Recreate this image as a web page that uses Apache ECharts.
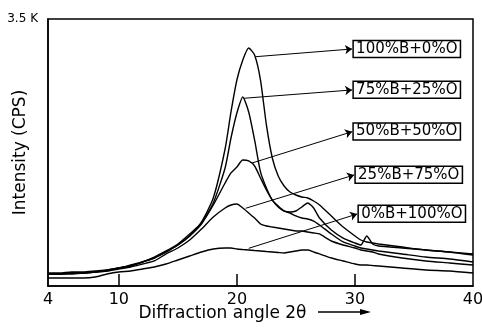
<!DOCTYPE html>
<html>
<head>
<meta charset="utf-8">
<script src="https://cdn.jsdelivr.net/npm/echarts@6/dist/echarts.min.js"></script>
<style>
    html, body { margin: 0; padding: 0; background: #fff; }
    #main { width: 482px; height: 329px; }
</style>
</head>
<body>
<div id="main"></div>
<script>
// 衍射角 2θ (横轴)
let angles = [4, 5, 6, 7, 8, 9, 10, 11, 12, 13, 14, 15, 16, 17, 18,
    19, 19.5, 20, 20.5, 21, 21.5, 22, 22.5, 23, 23.5, 24, 24.5, 25, 25.5, 26, 26.5, 27,
    28, 29, 30, 30.5, 31, 31.5, 32,
    34, 36, 38, 40]

// 各配比的强度 (CPS)
let b100 = [170, 170, 184, 184, 197, 210, 236, 275, 315, 367, 446, 538, 656, 839, 1154,
    1796, 2281, 2700, 2963, 3120, 3028, 2700, 2111, 1678, 1442, 1311, 1232, 1193, 1167, 1154, 1114, 1062,
    918, 773, 656, 603, 577, 564, 551,
    511, 472, 446, 406]
let b75 = [157, 157, 170, 170, 184, 210, 236, 262, 315, 380, 459, 551, 682, 826, 1088,
    1547, 1940, 2268, 2478, 2281, 1914, 1495, 1285, 1127, 1049, 983, 957, 918, 891, 878, 852, 800,
    682, 577, 524, 498, 485, 472, 459,
    420, 380, 354, 315]
let b50 = [157, 157, 157, 170, 184, 197, 236, 262, 315, 367, 446, 538, 656, 813, 1062,
    1350, 1482, 1560, 1652, 1639, 1573, 1416, 1259, 1127, 1036, 983, 970, 983, 1036, 1088, 1023, 891,
    734, 629, 564, 538, 656, 551, 524,
    498, 472, 446, 420]
let b25 = [157, 157, 170, 170, 184, 197, 223, 249, 288, 328, 420, 498, 603, 747, 905,
    1023, 1062, 1075, 1023, 957, 891, 813, 787, 773, 760, 747, 734, 721, 721, 708, 695, 682,
    590, 538, 498, 472, 459, 446, 420,
    367, 328, 302, 275]
let b0 = [105, 105, 105, 105, 118, 157, 184, 197, 223, 249, 288, 341, 393, 446, 485,
    498, 498, 485, 478, 472, 465, 459, 452, 446, 440, 433, 446, 459, 472, 472, 446, 420,
    367, 328, 288, 275, 275, 268, 262,
    236, 210, 197, 170]

let names = ['100%B+0%O', '75%B+25%O', '50%B+50%O', '25%B+75%O', '0%B+100%O']
let values = [b100, b75, b50, b25, b0]

// 标注箭头的起点和终点 (数据坐标)
let arrowFrom = [[21.6, 3006], [20.6, 2461], [21.3, 1613], [20.75, 1019], [21.0, 494]]
let arrowTo = [[29.76, 3107], [29.76, 2570], [29.76, 2023], [29.93, 1455], [30.19, 944]]

let xLabels = [4, 10, 20, 30, 40]
let xTicks = [10, 20, 30]

let FONT = 'DejaVu Sans'
let myChart = echarts.init(document.getElementById('main'))

let series = names.map(function (name, i) {
    return {
        name: name,
        type: 'line',
        data: angles.map(function (a, j) { return [a, values[i][j]] }),
        showSymbol: false,
        smooth: 0.2,
        silent: true,
        lineStyle: { color: '#000', width: 1.4 },
        markLine: {
            silent: true,
            symbol: ['none', 'arrow'],
            symbolSize: 7,
            lineStyle: { color: '#000', width: 1, type: 'solid' },
            label: {
                show: true,
                position: 'end',
                distance: 1,
                formatter: name,
                color: '#000',
                fontFamily: FONT,
                fontSize: 15,
                borderColor: '#000',
                borderWidth: 1.5,
                padding: [2, 3, 0, 3]
            },
            data: [[{ coord: arrowFrom[i] }, { coord: arrowTo[i] }]]
        }
    }
})

myChart.setOption({
    animation: false,
    backgroundColor: '#fff',
    grid: {
        left: 48, right: 9, top: 19, bottom: 43,
        containLabel: false,
        outerBoundsMode: 'none',
        show: true, borderColor: '#000', borderWidth: 1.5
    },
    xAxis: {
        type: 'value',
        min: 4,
        max: 40,
        name: 'Diffraction angle 2θ',
        nameLocation: 'middle',
        nameGap: 19,
        nameMoveOverlap: false,
        nameTextStyle: { color: '#000', fontFamily: FONT, fontSize: 17, padding: [0, 76, 0, 0] },
        axisLine: { lineStyle: { color: '#000', width: 1.5 } },
        axisTick: { show: true, inside: true, length: 12, customValues: xTicks, lineStyle: { color: '#000', width: 1.5 } },
        axisLabel: { customValues: xLabels, color: '#000', fontFamily: FONT, fontSize: 16, margin: 6 },
        splitLine: { show: false }
    },
    yAxis: {
        type: 'value',
        min: 0,
        max: 3500,
        interval: 3500,
        name: 'Intensity (CPS)',
        nameLocation: 'middle',
        nameRotate: 90,
        nameGap: 19,
        nameMoveOverlap: false,
        nameTextStyle: { color: '#000', fontFamily: FONT, fontSize: 17 },
        axisLine: { show: true, lineStyle: { color: '#000', width: 1.5 } },
        axisTick: { show: false },
        axisLabel: {
            color: '#000', fontFamily: FONT, fontSize: 12, margin: 10,
            formatter: function (v) { return v === 3500 ? '3.5 K' : '' }
        },
        splitLine: { show: false }
    },
    // 横轴名称后面的箭头
    graphic: [
        { type: 'line', shape: { x1: 318, y1: 312, x2: 366, y2: 312 }, style: { stroke: '#000', lineWidth: 1.5 } },
        { type: 'polygon', shape: { points: [[360, 309], [371, 312], [360, 315]] }, style: { fill: '#000' } }
    ],
    series: series
})
</script>
</body>
</html>
